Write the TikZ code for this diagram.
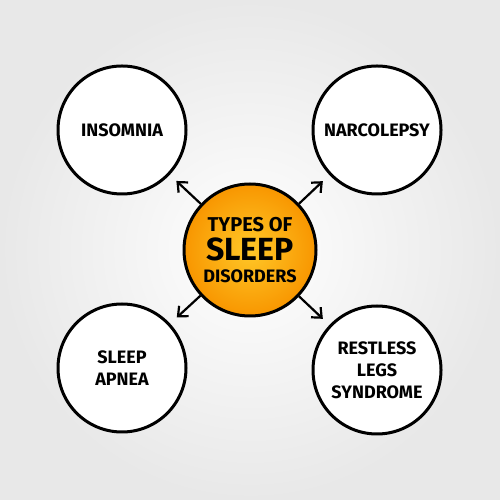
\documentclass[tikz,border=0pt]{standalone}
\usepackage{fontspec}
\setmainfont{Fira Sans}
\usetikzlibrary{arrows.meta}
\begin{document}
\begin{tikzpicture}[x=1pt,y=1pt,
  topic/.style={circle,draw=black,line width=3pt,fill=white,minimum size=128pt,
    inner sep=0pt,align=center,font=\bfseries\fontsize{18}{22}\selectfont},
  hub/.style={circle,draw=black,line width=3pt,minimum size=132pt,inner sep=0pt,
    align=center,inner color=hubinner,outer color=hubouter,
    font=\bfseries\fontsize{20}{24}\selectfont},
  link/.style={-{Straight Barb[length=8pt,width=14pt,line width=2.2pt]},line width=2.2pt,shorten >=9pt}]
  \definecolor{hubinner}{RGB}{255,200,40}
  \definecolor{hubouter}{RGB}{248,150,0}
  \shade[inner color=white,outer color=black!9] (0,0) rectangle (500,500);
  \useasboundingbox (0,0) rectangle (500,500);
  \node[hub] (types) at (250,250)
    {TYPES OF\\[5pt]
     {\fontsize{32}{32}\selectfont SLEEP}\\[-2pt]
     {\fontsize{18}{18}\selectfont DISORDERS}};
  \node[topic] (insomnia) at (122,370) {INSOMNIA};
  \node[topic] (narcolepsy) at (377,370) {NARCOLEPSY};
  \node[topic] (apnea) at (122,132) {SLEEP\\APNEA};
  \node[topic] (restless) at (377,130) {RESTLESS\\LEGS\\SYNDROME};
  \draw[link] (types) -- (insomnia);
  \draw[link] (types) -- (narcolepsy);
  \draw[link] (types) -- (apnea);
  \draw[link] (types) -- (restless);
\end{tikzpicture}
\end{document}
